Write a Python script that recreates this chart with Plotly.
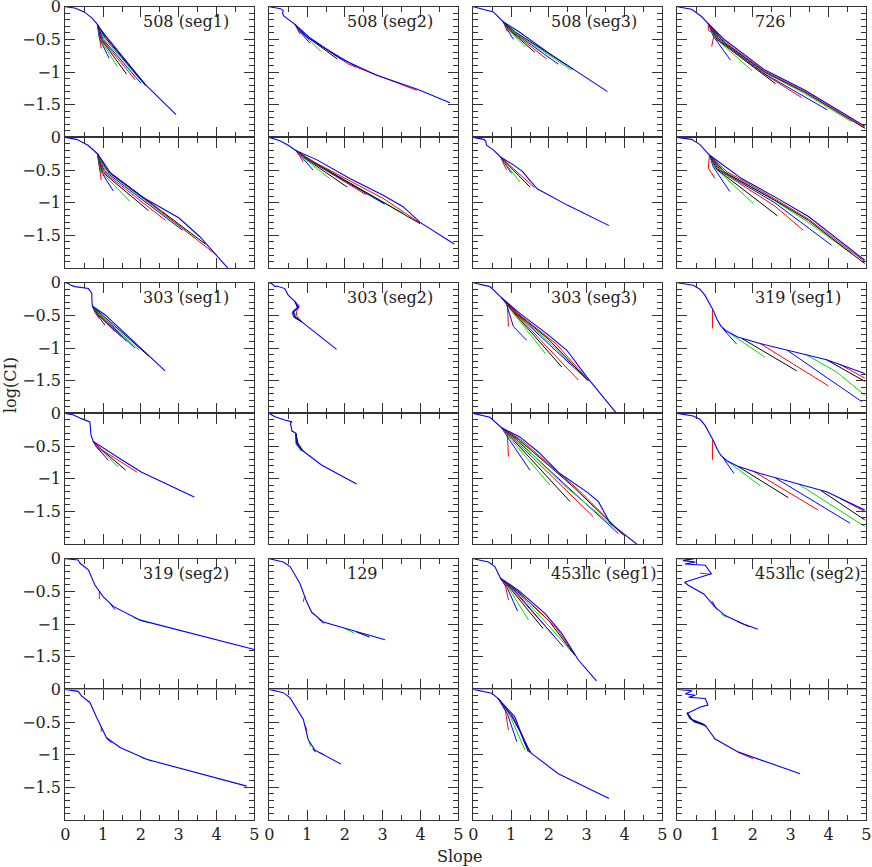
import plotly.graph_objects as go

W, H = 872, 867

labels = ["508 (seg1)", "508 (seg2)", "508 (seg3)", "726",
          "303 (seg1)", "303 (seg2)", "303 (seg3)", "319 (seg1)",
          "319 (seg2)", "129", "453llc (seg1)", "453llc (seg2)"]

fan_colors = ["#ff0000", "#0000ff", "#00dd00", "#000000"]

# ---- 508 (seg1)
p508s1_hi_x = [0, 0.25, 0.5, 0.7, 0.85, 0.92, 1.1, 1.5, 2.1, 2.93]
p508s1_hi_y = [0, -0.02, -0.08, -0.17, -0.27, -0.34, -0.47, -0.76, -1.18, -1.65]
p508s1_hi_bx = [[0.85, 0.9, 0.95], [0.85, 0.9, 1.16], [0.85, 0.93, 1.38], [0.85, 0.95, 1.62],
                [0.85, 0.97, 1.85], [0.85, 1.0, 2.0], [0.85, 1.02, 2.12], [0.85, 1.05, 2.12],
                [0.85, 1.07, 2.15]]
p508s1_hi_by = [[-0.27, -0.45, -0.64], [-0.27, -0.48, -0.79], [-0.27, -0.5, -0.92], [-0.27, -0.5, -1.03],
                [-0.27, -0.5, -1.12], [-0.27, -0.5, -1.17], [-0.27, -0.48, -1.21], [-0.27, -0.47, -1.2],
                [-0.27, -0.46, -1.21]]
p508s1_lo_x = [0, 0.3, 0.6, 0.85, 0.95, 1.2, 2.06, 3.0, 3.56, 4.0, 4.3]
p508s1_lo_y = [0, -0.03, -0.12, -0.25, -0.33, -0.55, -0.92, -1.23, -1.52, -1.8, -2.0]
p508s1_lo_bx = [[0.85, 0.9, 0.95], [0.85, 0.92, 1.27], [0.85, 0.95, 1.71], [0.85, 0.98, 2.2],
                [0.85, 1.0, 2.65], [0.85, 1.03, 3.1], [0.85, 1.06, 3.45], [0.85, 1.1, 3.7],
                [0.85, 1.13, 2.5, 4.0]]
p508s1_lo_by = [[-0.25, -0.45, -0.65], [-0.25, -0.5, -0.82], [-0.25, -0.53, -0.98], [-0.25, -0.53, -1.12],
                [-0.25, -0.52, -1.27], [-0.25, -0.51, -1.42], [-0.25, -0.5, -1.55], [-0.25, -0.5, -1.63],
                [-0.25, -0.52, -1.12, -1.8]]

# ---- 508 (seg2)
p508s2_hi_x = [0, 0.3, 0.37, 0.35, 0.38, 0.45, 0.68, 0.85, 1.08, 1.87, 2.84, 3.9, 4.78]
p508s2_hi_y = [0, -0.03, -0.06, -0.1, -0.14, -0.17, -0.27, -0.36, -0.48, -0.79, -1.05, -1.26, -1.47]
p508s2_hi_bx = [[0.68, 0.75, 0.81], [0.68, 0.8, 1.08], [0.68, 0.85, 1.38], [0.68, 0.9, 1.8],
                [0.68, 0.95, 2.1, 3.9], [0.68, 1.0, 2.3]]
p508s2_hi_by = [[-0.27, -0.34, -0.42], [-0.27, -0.38, -0.56], [-0.27, -0.4, -0.69], [-0.27, -0.42, -0.8],
                [-0.27, -0.44, -0.88, -1.28], [-0.27, -0.47, -0.92]]
p508s2_lo_x = [0, 0.28, 0.5, 0.7, 1.25, 2.13, 3.0, 3.54, 3.99, 4.89]
p508s2_lo_y = [0, -0.05, -0.12, -0.2, -0.34, -0.63, -0.88, -1.06, -1.3, -1.63]
p508s2_lo_bx = [[0.7, 0.8, 0.9], [0.7, 0.85, 1.16], [0.7, 0.9, 1.6], [0.7, 0.95, 2.06],
                [0.7, 1.0, 2.57], [0.7, 1.05, 3.05], [0.7, 1.1, 3.54], [0.7, 1.15, 3.99],
                [0.7, 1.2, 3.0, 3.99]]
p508s2_lo_by = [[-0.2, -0.28, -0.38], [-0.2, -0.3, -0.5], [-0.2, -0.31, -0.63], [-0.2, -0.32, -0.76],
                [-0.2, -0.33, -0.88], [-0.2, -0.35, -1.02], [-0.2, -0.36, -1.16], [-0.2, -0.37, -1.32],
                [-0.2, -0.38, -0.93, -1.31]]

# ---- 508 (seg3)
p508s3_hi_x = [0, 0.53, 0.79, 1.2, 2.0, 2.65, 3.55]
p508s3_hi_y = [0, -0.08, -0.23, -0.38, -0.71, -0.96, -1.3]
p508s3_hi_bx = [[0.79, 0.85, 0.9], [0.79, 0.88, 1.06], [0.79, 0.92, 1.37], [0.79, 0.96, 1.63],
                [0.79, 1.0, 1.94], [0.79, 1.04, 2.25], [0.79, 1.08, 2.6], [0.79, 1.12, 2.65]]
p508s3_hi_by = [[-0.23, -0.3, -0.38], [-0.23, -0.33, -0.5], [-0.23, -0.35, -0.61], [-0.23, -0.36, -0.7],
                [-0.23, -0.37, -0.8], [-0.23, -0.38, -0.88], [-0.23, -0.39, -0.97], [-0.23, -0.39, -0.96]]
p508s3_lo_x = [0, 0.28, 0.33, 0.35, 0.53, 0.72, 1.06, 1.3, 1.5, 1.7, 2.5, 3.59]
p508s3_lo_y = [0, -0.03, -0.06, -0.12, -0.19, -0.3, -0.42, -0.52, -0.66, -0.79, -1.04, -1.35]
p508s3_lo_bx = [[0.72, 0.8, 0.88], [0.72, 0.85, 1.01], [0.72, 0.9, 1.23], [0.72, 0.95, 1.5],
                [0.72, 1.0, 1.62]]
p508s3_lo_by = [[-0.3, -0.4, -0.5], [-0.3, -0.42, -0.55], [-0.3, -0.43, -0.68], [-0.3, -0.44, -0.76],
                [-0.3, -0.45, -0.77]]

# ---- 726
p726_hi_x = [0, 0.38, 0.64, 0.82, 1.26, 2.32, 3.38, 4.96]
p726_hi_y = [0, -0.04, -0.15, -0.26, -0.51, -0.97, -1.28, -1.83]
p726_hi_bx = [[0.82, 0.82, 0.98, 0.91], [0.82, 0.95, 1.41], [0.82, 1.0, 1.98], [0.82, 1.05, 2.6],
              [0.82, 1.1, 2.32, 3.29], [0.82, 1.15, 2.32, 3.97], [0.82, 1.2, 2.32, 3.38, 4.61],
              [0.82, 1.24, 2.32, 3.38, 4.96], [0.82, 1.28, 2.32, 3.38, 4.96]]
p726_hi_by = [[-0.26, -0.36, -0.41, -0.61], [-0.26, -0.45, -0.82], [-0.26, -0.48, -0.98], [-0.26, -0.5, -1.18],
              [-0.26, -0.52, -1.04, -1.39], [-0.26, -0.53, -1.03, -1.58], [-0.26, -0.54, -1.01, -1.33, -1.76],
              [-0.26, -0.55, -1.0, -1.31, -1.86], [-0.26, -0.55, -0.99, -1.3, -1.85]]
p726_lo_x = [0, 0.38, 0.6, 0.85, 1.7, 2.58, 3.47, 4.26, 4.79, 4.96]
p726_lo_y = [0, -0.03, -0.11, -0.27, -0.63, -0.91, -1.21, -1.57, -1.8, -1.88]
p726_lo_bx = [[0.85, 0.82, 1.0], [0.85, 0.95, 1.39], [0.85, 1.0, 2.01], [0.85, 1.05, 2.65],
              [0.85, 1.1, 2.58, 3.33], [0.85, 1.15, 2.58, 4.08], [0.85, 1.2, 2.58, 3.47, 4.61],
              [0.85, 1.25, 2.58, 3.47, 4.96], [0.85, 1.3, 2.58, 3.47, 4.96]]
p726_lo_by = [[-0.27, -0.47, -0.63], [-0.27, -0.45, -0.83], [-0.27, -0.47, -1.01], [-0.27, -0.49, -1.2],
              [-0.27, -0.5, -1.05, -1.42], [-0.27, -0.51, -1.0, -1.65], [-0.27, -0.52, -0.97, -1.3, -1.78],
              [-0.27, -0.53, -0.96, -1.27, -1.93], [-0.27, -0.52, -0.94, -1.25, -1.9]]

# ---- 303 (seg1)
p303s1_hi_x = [0, 0.08, 0.12, 0.26, 0.61, 0.7, 0.71, 0.72, 1.05, 1.93, 2.64]
p303s1_hi_y = [0, -0.01, -0.03, -0.06, -0.09, -0.16, -0.34, -0.36, -0.49, -0.96, -1.35]
p303s1_hi_bx = [[0.72, 0.78, 0.9], [0.72, 0.8, 1.05], [0.72, 0.82, 1.31], [0.72, 0.85, 1.49],
                [0.72, 0.87, 1.62], [0.72, 0.9, 1.84], [0.72, 0.92, 1.95], [0.72, 0.95, 2.2]]
p303s1_hi_by = [[-0.36, -0.45, -0.55], [-0.36, -0.46, -0.65], [-0.36, -0.47, -0.75], [-0.36, -0.48, -0.83],
                [-0.36, -0.48, -0.9], [-0.36, -0.48, -1.0], [-0.36, -0.48, -1.03], [-0.36, -0.48, -1.12]]
p303s1_lo_x = [0, 0.2, 0.43, 0.65, 0.68, 0.74, 1.49, 2.02, 3.41]
p303s1_lo_y = [0, -0.02, -0.08, -0.13, -0.33, -0.43, -0.71, -0.9, -1.28]
p303s1_lo_bx = [[0.74, 0.8, 0.95], [0.74, 0.85, 1.14], [0.74, 0.9, 1.4], [0.74, 0.95, 1.6],
                [0.74, 1.0, 1.9]]
p303s1_lo_by = [[-0.43, -0.5, -0.6], [-0.43, -0.52, -0.72], [-0.43, -0.53, -0.82], [-0.43, -0.55, -0.87],
                [-0.43, -0.57, -0.9]]

# ---- 303 (seg2)
p303s2_hi_x = [0, 0.08, 0.15, 0.2, 0.41, 0.5, 0.68, 0.77, 0.63, 0.68, 0.86, 1.78]
p303s2_hi_y = [0, -0.02, -0.06, -0.05, -0.09, -0.19, -0.29, -0.37, -0.44, -0.52, -0.6, -1.02]
p303s2_hi_bx = [[0.68, 0.8, 0.72, 0.72, 0.86], [0.68, 0.74, 0.6, 0.65, 0.86],
                [0.68, 0.78, 0.66, 0.7, 0.86], [0.68, 0.76, 0.64, 0.68, 0.86]]
p303s2_hi_by = [[-0.29, -0.36, -0.44, -0.5, -0.6], [-0.29, -0.38, -0.46, -0.53, -0.6],
                [-0.29, -0.37, -0.45, -0.52, -0.6], [-0.29, -0.38, -0.45, -0.53, -0.6]]
p303s2_lo_x = [0, 0.15, 0.41, 0.6, 0.56, 0.6, 0.7, 0.72, 0.86, 1.38, 2.31]
p303s2_lo_y = [0, -0.05, -0.1, -0.13, -0.15, -0.27, -0.3, -0.45, -0.56, -0.79, -1.08]
p303s2_lo_bx = [[0.7, 0.76, 0.9], [0.7, 0.71, 0.84], [0.7, 0.73, 0.85], [0.7, 0.75, 0.88]]
p303s2_lo_by = [[-0.3, -0.45, -0.58], [-0.3, -0.47, -0.57], [-0.3, -0.47, -0.58], [-0.3, -0.46, -0.57]]

# ---- 303 (seg3)
p303s3_hi_x = [0, 0.44, 0.71, 0.75, 1.23, 1.94, 2.47, 3.0, 3.79]
p303s3_hi_y = [0, -0.06, -0.21, -0.23, -0.47, -0.78, -1.03, -1.44, -2.0]
p303s3_hi_bx = [[0.75, 0.9, 0.93], [0.75, 0.88, 1.06, 1.41], [0.75, 0.97, 1.9], [0.75, 1.0, 2.34],
                [0.75, 1.05, 2.78], [0.75, 1.1, 2.2, 3.04], [0.75, 1.15, 2.1, 3.04],
                [0.75, 1.18, 2.0, 3.04], [0.75, 1.2, 2.2, 3.04]]
p303s3_hi_by = [[-0.23, -0.32, -0.67], [-0.23, -0.33, -0.67, -0.88], [-0.23, -0.4, -1.08], [-0.23, -0.41, -1.29],
                [-0.23, -0.43, -1.49], [-0.23, -0.45, -1.05, -1.5], [-0.23, -0.47, -0.96, -1.5],
                [-0.23, -0.48, -0.87, -1.5], [-0.23, -0.48, -0.94, -1.49]]
p303s3_lo_x = [0, 0.44, 0.75, 1.23, 1.72, 2.29, 3.0, 3.31, 3.62, 4.37]
p303s3_lo_y = [0, -0.06, -0.22, -0.36, -0.59, -0.92, -1.2, -1.35, -1.68, -2.02]
p303s3_lo_bx = [[0.75, 0.9, 0.93], [0.75, 0.95, 1.5], [0.75, 1.0, 2.03], [0.75, 1.05, 2.56],
                [0.75, 1.1, 3.17], [0.75, 1.15, 3.84], [0.75, 1.2, 2.4, 3.97],
                [0.75, 1.22, 2.6, 3.97], [0.75, 1.25, 2.8, 3.97]]
p303s3_lo_by = [[-0.22, -0.3, -0.66], [-0.22, -0.4, -0.87], [-0.22, -0.4, -1.1], [-0.22, -0.4, -1.35],
                [-0.22, -0.41, -1.58], [-0.22, -0.41, -1.84], [-0.22, -0.42, -1.1, -1.86],
                [-0.22, -0.41, -1.1, -1.86], [-0.22, -0.4, -1.18, -1.86]]

# ---- 319 (seg1)
p319s1_hi_x = [0, 0.42, 0.6, 0.73, 0.95, 1.05, 1.15, 1.3, 1.6, 2.19, 3.95, 4.96]
p319s1_hi_y = [0, -0.04, -0.1, -0.19, -0.42, -0.56, -0.66, -0.74, -0.83, -0.93, -1.18, -1.39]
p319s1_hi_bx = [[0.93, 0.93], [1.2, 1.57], [1.4, 2.32], [1.7, 3.16], [2.19, 4.0], [2.9, 4.88],
                [3.4, 4.2, 4.96], [3.95, 4.96], [4.3, 4.96]]
p319s1_hi_by = [[-0.42, -0.7], [-0.7, -0.94], [-0.78, -1.14], [-0.85, -1.35], [-0.93, -1.58], [-1.03, -1.82],
                [-1.1, -1.36, -1.72], [-1.18, -1.51], [-1.25, -1.46]]
p319s1_lo_x = [0, 0.42, 0.6, 0.73, 0.95, 1.05, 1.15, 1.3, 1.6, 2.19, 3.95, 4.96]
p319s1_lo_y = [0, -0.04, -0.09, -0.18, -0.41, -0.54, -0.64, -0.72, -0.81, -0.92, -1.2, -1.48]
p319s1_lo_bx = [[0.93, 0.93], [1.2, 1.5], [1.35, 2.2], [1.6, 2.94], [2.0, 3.73], [2.6, 4.57],
                [3.2, 4.96], [3.8, 4.96], [4.3, 4.96]]
p319s1_lo_by = [[-0.41, -0.71], [-0.67, -0.92], [-0.74, -1.11], [-0.81, -1.29], [-0.88, -1.48], [-0.99, -1.68],
                [-1.08, -1.73], [-1.18, -1.63], [-1.3, -1.5]]

# ---- 319 (seg2)
p319s2_hi_x = [0, 0.34, 0.37, 0.39, 0.61, 0.78, 1.0, 1.27, 1.98, 5.0]
p319s2_hi_y = [0, -0.02, -0.05, -0.07, -0.17, -0.4, -0.58, -0.73, -0.94, -1.39]
p319s2_hi_bx = [[0.9, 0.9], [1.2, 1.32], [1.8, 2.2]]
p319s2_hi_by = [[-0.5, -0.62], [-0.7, -0.78], [-0.9, -0.98]]
p319s2_lo_x = [0, 0.34, 0.43, 0.65, 0.83, 1.09, 1.45, 2.15, 4.8]
p319s2_lo_y = [0, -0.03, -0.1, -0.2, -0.43, -0.74, -0.89, -1.07, -1.48]
p319s2_lo_bx = [[0.95, 0.95], [1.1, 1.22], [2.0, 2.3]]
p319s2_lo_by = [[-0.57, -0.65], [-0.75, -0.82], [-1.04, -1.1]]

# ---- 129
p129_hi_x = [0, 0.37, 0.55, 0.81, 0.99, 1.12, 1.43, 3.06]
p129_hi_y = [0, -0.05, -0.12, -0.38, -0.66, -0.82, -0.97, -1.24]
p129_hi_bx = [[0.93, 0.9], [1.3, 1.45], [2.0, 2.25], [2.3, 2.65]]
p129_hi_by = [[-0.58, -0.66], [-0.92, -0.99], [-1.07, -1.14], [-1.12, -1.2]]
p129_lo_x = [0, 0.37, 0.55, 0.9, 1.03, 1.21, 1.89]
p129_lo_y = [0, -0.05, -0.13, -0.46, -0.77, -0.93, -1.14]
p129_lo_bx = [[0.95, 1.0], [1.3, 1.45], [1.05, 1.1], [1.15, 1.22]]
p129_lo_by = [[-0.55, -0.64], [-0.96, -1.0], [-0.8, -0.88], [-0.9, -0.96]]

# ---- 453llc (seg1)
p453s1_hi_x = [0, 0.4, 0.57, 0.72, 1.19, 1.9, 2.34, 2.78, 3.26]
p453s1_hi_y = [0, -0.05, -0.12, -0.3, -0.48, -0.84, -1.14, -1.55, -1.87]
p453s1_hi_bx = [[0.72, 0.85, 0.93], [0.72, 0.9, 1.17], [0.72, 0.95, 1.46], [0.72, 1.0, 1.85],
                [0.72, 1.05, 2.16], [0.72, 1.1, 2.38], [0.72, 1.15, 1.8, 2.69],
                [0.72, 1.17, 2.0, 2.69], [0.72, 1.19, 2.2, 2.69]]
p453s1_hi_by = [[-0.3, -0.42, -0.63], [-0.3, -0.45, -0.8], [-0.3, -0.46, -0.94], [-0.3, -0.47, -1.07],
                [-0.3, -0.48, -1.2], [-0.3, -0.49, -1.35], [-0.3, -0.5, -0.9, -1.48],
                [-0.3, -0.5, -0.95, -1.48], [-0.3, -0.5, -1.06, -1.47]]
p453s1_lo_x = [0, 0.49, 0.66, 1.1, 1.37, 1.54, 2.25, 3.59]
p453s1_lo_y = [0, -0.06, -0.14, -0.42, -0.83, -0.98, -1.29, -1.67]
p453s1_lo_bx = [[0.66, 0.85, 0.93], [0.66, 0.9, 1.15], [0.66, 0.95, 1.37], [0.66, 1.0, 1.25, 1.46],
                [0.66, 1.03, 1.3, 1.5], [0.66, 1.06, 1.33, 1.52]]
p453s1_lo_by = [[-0.14, -0.33, -0.62], [-0.14, -0.37, -0.8], [-0.14, -0.38, -0.93], [-0.14, -0.4, -0.66, -0.96],
                [-0.14, -0.42, -0.7, -0.97], [-0.14, -0.43, -0.76, -0.97]]

# ---- 453llc (seg2)
p453s2_hi_x = [0, 0.45, 0.15, 0.48, 0.2, 0.5, 0.74, 0.9, 0.7, 0.19, 0.3, 0.7, 1.0, 1.27, 1.71, 2.13]
p453s2_hi_y = [0, 0, -0.03, -0.05, -0.08, -0.09, -0.1, -0.23, -0.27, -0.36, -0.41, -0.54, -0.74, -0.87, -0.99, -1.08]
p453s2_hi_bx = [[0.6, 0.88], [0.92, 1.05], [1.15, 1.3], [1.6, 1.9]]
p453s2_hi_by = [[-0.22, -0.24], [-0.65, -0.78], [-0.84, -0.9], [-0.96, -1.04]]
p453s2_lo_x = [0, 0.39, 0.21, 0.48, 0.3, 0.74, 0.81, 0.61, 0.26, 0.34, 0.74, 1.0, 1.62, 3.25]
p453s2_lo_y = [0, -0.02, -0.07, -0.09, -0.12, -0.14, -0.24, -0.27, -0.37, -0.45, -0.55, -0.76, -0.96, -1.29]
p453s2_lo_bx = [[0.26, 0.4, 0.78], [0.3, 0.38, 0.7], [0.28, 0.45, 0.76], [0.27, 0.42, 0.75], [1.6, 2.0]]
p453s2_lo_by = [[-0.35, -0.48, -0.57], [-0.4, -0.46, -0.53], [-0.38, -0.5, -0.56], [-0.36, -0.49, -0.55],
                [-0.96, -1.06]]

# row-major order, 6 rows x 4 columns
panels = [
    (p508s1_hi_x, p508s1_hi_y, p508s1_hi_bx, p508s1_hi_by),
    (p508s2_hi_x, p508s2_hi_y, p508s2_hi_bx, p508s2_hi_by),
    (p508s3_hi_x, p508s3_hi_y, p508s3_hi_bx, p508s3_hi_by),
    (p726_hi_x, p726_hi_y, p726_hi_bx, p726_hi_by),
    (p508s1_lo_x, p508s1_lo_y, p508s1_lo_bx, p508s1_lo_by),
    (p508s2_lo_x, p508s2_lo_y, p508s2_lo_bx, p508s2_lo_by),
    (p508s3_lo_x, p508s3_lo_y, p508s3_lo_bx, p508s3_lo_by),
    (p726_lo_x, p726_lo_y, p726_lo_bx, p726_lo_by),
    (p303s1_hi_x, p303s1_hi_y, p303s1_hi_bx, p303s1_hi_by),
    (p303s2_hi_x, p303s2_hi_y, p303s2_hi_bx, p303s2_hi_by),
    (p303s3_hi_x, p303s3_hi_y, p303s3_hi_bx, p303s3_hi_by),
    (p319s1_hi_x, p319s1_hi_y, p319s1_hi_bx, p319s1_hi_by),
    (p303s1_lo_x, p303s1_lo_y, p303s1_lo_bx, p303s1_lo_by),
    (p303s2_lo_x, p303s2_lo_y, p303s2_lo_bx, p303s2_lo_by),
    (p303s3_lo_x, p303s3_lo_y, p303s3_lo_bx, p303s3_lo_by),
    (p319s1_lo_x, p319s1_lo_y, p319s1_lo_bx, p319s1_lo_by),
    (p319s2_hi_x, p319s2_hi_y, p319s2_hi_bx, p319s2_hi_by),
    (p129_hi_x, p129_hi_y, p129_hi_bx, p129_hi_by),
    (p453s1_hi_x, p453s1_hi_y, p453s1_hi_bx, p453s1_hi_by),
    (p453s2_hi_x, p453s2_hi_y, p453s2_hi_bx, p453s2_hi_by),
    (p319s2_lo_x, p319s2_lo_y, p319s2_lo_bx, p319s2_lo_by),
    (p129_lo_x, p129_lo_y, p129_lo_bx, p129_lo_by),
    (p453s1_lo_x, p453s1_lo_y, p453s1_lo_bx, p453s1_lo_by),
    (p453s2_lo_x, p453s2_lo_y, p453s2_lo_bx, p453s2_lo_by),
]

# panel placement in page pixels
col_left = [65.3, 269.3, 473.3, 677.3]
panel_w = 189.0
row_top = [6.7, 137.4, 282.7, 413.4, 558.7, 689.4]
panel_h = 130.7

FONT = "DejaVu Serif"
AXC = "#333333"
TXT = "#222222"

fig = go.Figure()
layout = dict(
    width=W, height=H, margin=dict(l=0, r=0, t=0, b=0, autoexpand=False),
    paper_bgcolor="white", plot_bgcolor="white", showlegend=False,
    font=dict(family=FONT, size=16, color=TXT),
)
annotations = []

for i, (mx, my, bx, by) in enumerate(panels):
    r, c = divmod(i, 4)
    suffix = "" if i == 0 else str(i + 1)
    xa, ya = "x" + suffix, "y" + suffix

    for k, (xs, ys) in enumerate(zip(bx, by)):
        fig.add_trace(go.Scatter(x=xs, y=ys, mode="lines", xaxis=xa, yaxis=ya,
                                 line=dict(color=fan_colors[k % 4], width=1), hoverinfo="skip"))
    fig.add_trace(go.Scatter(x=mx, y=my, mode="lines", xaxis=xa, yaxis=ya,
                             line=dict(color="#0000ff", width=1.1), hoverinfo="skip"))

    x0 = col_left[c] / W
    x1 = (col_left[c] + panel_w) / W
    y1 = 1 - row_top[r] / H
    y0 = 1 - (row_top[r] + panel_h) / H

    layout["xaxis" + suffix] = dict(
        domain=[x0, x1], anchor=ya, range=[0, 5], automargin=False,
        tickmode="linear", tick0=0, dtick=1,
        ticks="inside", ticklen=10, tickwidth=1, tickcolor=AXC,
        minor=dict(tickmode="linear", tick0=0, dtick=0.5, ticks="inside",
                   ticklen=5, tickwidth=1, tickcolor=AXC),
        showline=True, linecolor=AXC, linewidth=1.2, mirror="allticks",
        showgrid=False, zeroline=False, showticklabels=(r == 5),
        ticklabeloverflow="allow",
        tickfont=dict(family=FONT, size=16, color=TXT),
    )
    layout["yaxis" + suffix] = dict(
        domain=[y0, y1], anchor=xa, range=[-2, 0], automargin=False,
        tickmode="array", tickvals=[0, -0.5, -1, -1.5],
        ticktext=["0", "\u22120.5", "\u22121", "\u22121.5"],
        ticks="inside", ticklen=10, tickwidth=1, tickcolor=AXC,
        minor=dict(tickmode="linear", tick0=0, dtick=0.1, ticks="inside",
                   ticklen=5, tickwidth=1, tickcolor=AXC),
        showline=True, linecolor=AXC, linewidth=1.2, mirror="allticks",
        showgrid=False, zeroline=False, showticklabels=(c == 0),
        ticklabeloverflow="allow",
        tickfont=dict(family=FONT, size=16, color=TXT),
    )

    if r % 2 == 0:
        annotations.append(dict(
            text=labels[(r // 2) * 4 + c], xref=xa, yref=ya, x=2.0, y=-0.22,
            xanchor="left", yanchor="middle", showarrow=False,
            font=dict(family=FONT, size=16, color=TXT),
        ))

annotations.append(dict(text="log(CI)", xref="paper", yref="paper",
                        x=10 / W, y=1 - 385 / H,
                        textangle=-90, showarrow=False, xanchor="center", yanchor="middle",
                        font=dict(family=FONT, size=16, color=TXT)))
annotations.append(dict(text="Slope", xref="paper", yref="paper",
                        x=460 / W, y=1 - 856 / H,
                        showarrow=False, xanchor="center", yanchor="middle",
                        font=dict(family=FONT, size=16, color=TXT)))

layout["annotations"] = annotations
fig.update_layout(**layout)

# drop the page's default body margin so the figure fills the window exactly
fig.write_html("out.html", config={"displayModeBar": False},
               post_script="document.body.style.margin = '0';")
